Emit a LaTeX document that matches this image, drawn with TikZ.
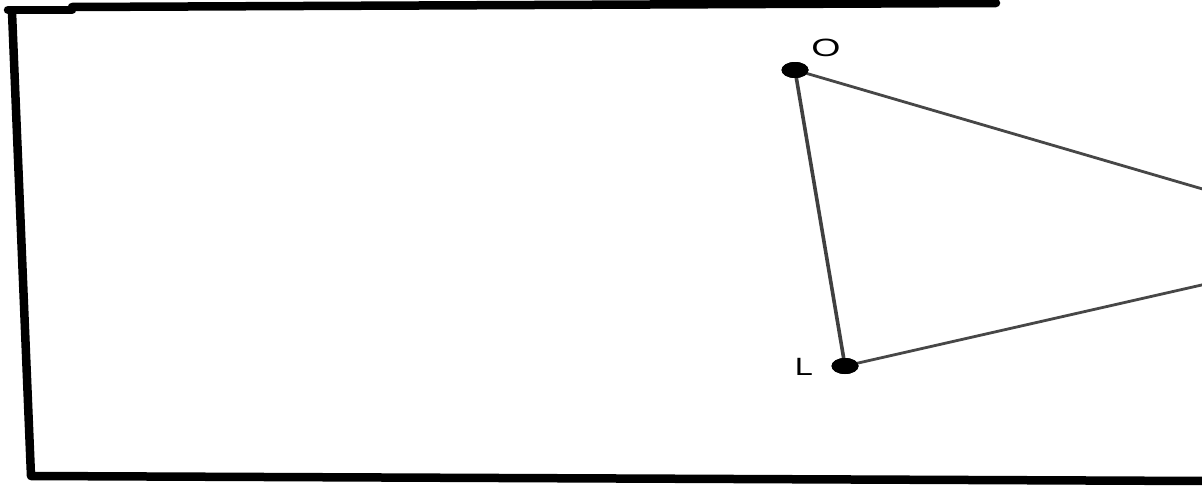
\documentclass[tikz,border=0pt]{standalone}
\usepackage{fontspec}
\setmainfont{Liberation Sans}
\usetikzlibrary{shapes.geometric}
\begin{document}
\begin{tikzpicture}[x=1pt,y=-1pt,
  frame/.style={line width=8.5pt,black,line cap=round,line join=round},
  edge/.style={line width=2.8pt,black!72},
  dot/.style={ellipse,fill=black,minimum width=27pt,minimum height=16pt,inner sep=0pt},
  lbl/.style={font=\fontsize{25}{25}\selectfont,inner sep=0pt}]
\useasboundingbox (0,0) rectangle (1202,485);
\clip (0,0) rectangle (1202,485);
% frame
\draw[frame] (8,10) -- (72,10);
\draw[frame] (72,7) -- (996,3);
\draw[frame] (12,12) -- (31,476) -- (1205,481);
% triangle
\coordinate (R1) at (1206,190);
\coordinate (R2) at (1206,284);
\node[dot] (O) at (795,70) {};
\node[dot] (L) at (845,366) {};
\draw[edge] (O.center) -- (R1);
\draw[edge] (L.center) -- (R2);
\draw[line width=3.6pt,black!75] (O.center) -- (L.center);
\node[dot] at (795,70) {};
\node[dot] at (845,366) {};
\node[lbl] (lO) at (826,48) {\scalebox{1.5}[1]{O}};
\node[lbl] (lL) at (804,367) {\scalebox{1.3}[1]{L}};
\end{tikzpicture}
\end{document}
